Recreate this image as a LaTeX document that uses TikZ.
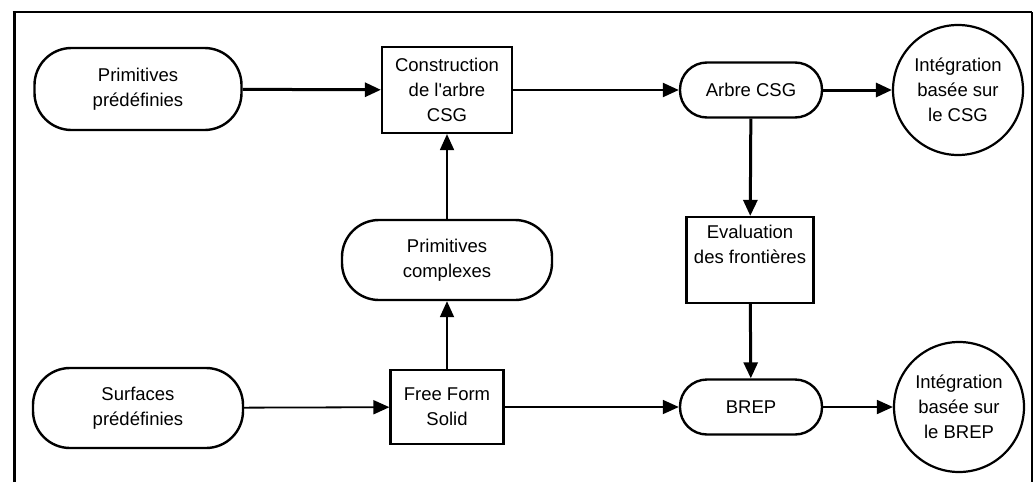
\documentclass[tikz,border=0pt]{standalone}
\usepackage{fontspec}
\setmainfont{Liberation Sans}
\usetikzlibrary{arrows.meta}
\begin{document}
\begin{tikzpicture}[x=1pt,y=-1pt,
  every node/.style={font=\fontsize{18.5}{25}\selectfont, align=center, inner sep=0pt},
  pill/.style={draw, line width=2.4pt, rounded corners=#1},
  pill/.default=37pt,
  procbox/.style={draw, line width=2.2pt, rectangle},
  endcircle/.style={draw, line width=2.2pt, circle},
  thick arrow/.style={line width=3pt, -{Triangle[length=16pt,width=14pt]}},
  thin arrow/.style={line width=1.8pt, -{Triangle[length=16pt,width=14pt]}}
]
\useasboundingbox (0,0) rectangle (1035,482);

% open frame (left, top, right)
\draw[line width=3pt] (14,482) -- (14,12);
\draw[line width=2.4pt] (12.5,12) -- (1032,12);
\draw[line width=1.4pt] (1032,12) -- (1032,482);

% nodes
\node[pill, minimum width=207pt, minimum height=82pt] (pp) at (138,89) {Primitives\\prédéfinies};
\node[procbox, minimum width=130pt, minimum height=86pt] (cons) at (447,90) {Construction\\de l\textquotesingle arbre\\CSG};
\node[pill=27pt, minimum width=142pt, minimum height=55pt] (arbre) at (751,90) {Arbre CSG};
\node[endcircle, minimum size=130pt] (icsg) at (958,90) {Intégration\\basée sur\\le CSG};

\node[pill, minimum width=210pt, minimum height=80pt] (pc) at (447,260) {Primitives\\complexes};
\node[procbox, minimum width=127pt, minimum height=86pt] (eval) at (750,260) {Evaluation\\des frontières\\[6pt]};

\node[pill, minimum width=210pt, minimum height=80pt] (sp) at (138,408) {Surfaces\\prédéfinies};
\node[procbox, minimum width=113pt, minimum height=74pt] (ffs) at (447,407) {Free Form\\Solid};
\node[pill=27pt, minimum width=142pt, minimum height=55pt] (brep) at (751,407) {BREP};
\node[endcircle, minimum size=130pt] (ibrep) at (959,407) {Intégration\\basée sur\\le BREP};

% connectors
\draw[thick arrow] (pp) -- (cons);
\draw[thin arrow, line width=2.3pt] (cons) -- (arbre);
\draw[thick arrow] (arbre) -- (icsg);
\draw[thick arrow] (arbre) -- (eval);
\draw[thick arrow] (eval) -- (brep);
\draw[thin arrow] (pc) -- (cons);
\draw[thin arrow] (ffs) -- (pc);
\draw[thin arrow] (sp) -- (ffs);
\draw[thin arrow] (ffs) -- (brep);
\draw[thin arrow] (brep) -- (ibrep);
\end{tikzpicture}
\end{document}
